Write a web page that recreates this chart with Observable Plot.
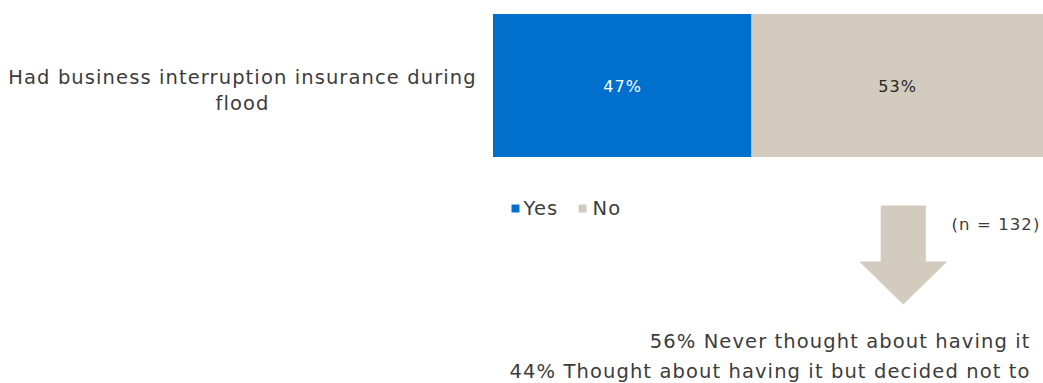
<!DOCTYPE html>
<html>
<head>
<meta charset="utf-8">
<script src="https://cdn.jsdelivr.net/npm/d3@7"></script>
<script src="https://cdn.jsdelivr.net/npm/@observablehq/plot@0.6"></script>
</head>
<body style="margin:0;background:#fff">
<div id="chart"></div>
<script>
// ---- data ----
const categories = ["Had business interruption insurance during flood"];
const answers = ["Yes", "No"];
const answerValues = [47, 53];
const answerColors = ["#0070CC", "#D3CCBE"];
const labelColors = ["#ffffff", "#262626"];
const followUps = ["Never thought about having it", "Thought about having it but decided not to"];
const followUpValues = [56, 44];
const sampleSize = 132;

// ---- layout ----
const W = 1043, H = 383;
const barLeft = 493, barRight = 1043;
const barTop = 14, barBottom = 157;
const arrowCenter = 74.5, shaftHalf = 4.1, headHalf = 8.0;
const arrowTop = 205, headTop = 261, arrowTip = 304;
const fontFam = "'DejaVu Sans', sans-serif";
const textColor = "#3c3c3c";
const FS = 19.5;

const ends = d3.cumsum(answerValues);
const rows = answers.map((a, i) => ({answer: a, value: answerValues[i], x1: ends[i] - answerValues[i], x2: ends[i], label: labelColors[i]}));
const arrowPts = [
  [arrowCenter - shaftHalf, arrowTop], [arrowCenter + shaftHalf, arrowTop],
  [arrowCenter + shaftHalf, headTop], [arrowCenter + headHalf, headTop],
  [arrowCenter, arrowTip], [arrowCenter - headHalf, headTop],
  [arrowCenter - shaftHalf, headTop]
].map(p => ({x: p[0], y: p[1]}));
const legendRows = answers.map((a, i) => ({answer: a, x: [4.0, 16.2][i]}));
const followRows = followUps.map((t, i) => ({text: followUpValues[i] + "% " + t, y: [341, 371][i]}));
const xPx = p => (p - barLeft) / (barRight - barLeft) * 100;

const chart = Plot.plot({
  width: W, height: H, margin: 0,
  style: {fontFamily: fontFam},
  x: {domain: [0, 100], range: [barLeft, barRight], axis: null},
  y: {domain: [0, H], range: [0, H], axis: null},
  color: {domain: answers, range: answerColors},
  marks: [
    Plot.rect(rows, {x1: "x1", x2: "x2", y1: () => barTop, y2: () => barBottom, fill: "answer"}),
    Plot.text(rows, {x: d => (d.x1 + d.x2) / 2, y: () => (barTop + barBottom) / 2 + 1, text: d => d.value + "%", fill: d => d.label, fontSize: 16}),
    Plot.text(categories, {x: () => xPx(242), y: () => 88, text: d => d, lineWidth: 22.5, lineHeight: 1.33, textAnchor: "middle", fontSize: FS, fill: textColor}),
    Plot.dot(legendRows, {x: "x", y: () => 208, symbol: "square", r: 4.5, fill: "answer"}),
    Plot.text(legendRows.slice(0, 1), {x: "x", y: () => 208, dx: 8, text: "answer", textAnchor: "start", fontSize: FS, fill: textColor}),
    Plot.text(legendRows.slice(1), {x: "x", y: () => 208, dx: 10, text: "answer", textAnchor: "start", fontSize: FS, fill: textColor}),
    Plot.line(arrowPts, {x: "x", y: "y", curve: "linear-closed", fill: answerColors[1], stroke: "none"}),
    Plot.text(["(n = " + sampleSize + ")"], {x: () => xPx(1040), y: () => 224, text: d => d, textAnchor: "end", fontSize: 16.5, fill: textColor}),
    Plot.text(followRows, {x: () => xPx(1030), y: "y", text: "text", textAnchor: "end", fontSize: FS, fill: textColor})
  ]
});
chart.querySelectorAll("text").forEach(t => t.setAttribute("letter-spacing", "1.1"));
document.getElementById("chart").appendChild(chart);
</script>
</body>
</html>
